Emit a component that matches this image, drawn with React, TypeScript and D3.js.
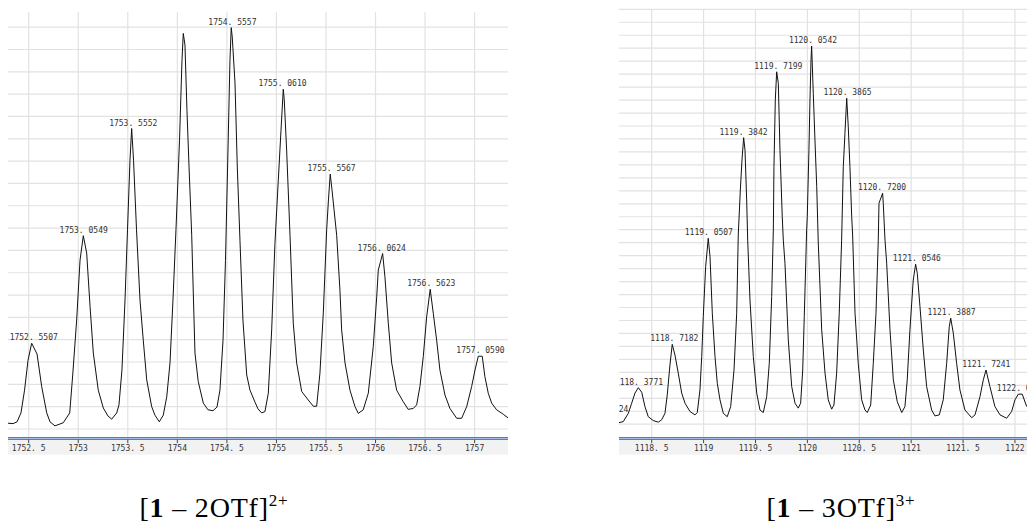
import React from 'react';
import * as d3 from 'd3';

// profile: [m/z, intensity]
const leftProfile: [number, number][] = [
  [1752.291, 1.3], [1752.342, 1.2], [1752.382, 1.6], [1752.422, 3.6], [1752.458, 8.7],
  [1752.493, 15.4], [1752.530, 19.2], [1752.584, 16.8], [1752.631, 9.5], [1752.682, 3.6],
  [1752.715, 1.6], [1752.765, 0.7], [1752.849, 1.4], [1752.914, 3.6], [1752.944, 12.1],
  [1752.984, 24.4], [1753.018, 37.8], [1753.051, 43.3], [1753.085, 39.4], [1753.119, 27.5],
  [1753.152, 17.0], [1753.202, 8.7], [1753.253, 4.7], [1753.300, 2.9], [1753.338, 2.2],
  [1753.388, 3.6], [1753.411, 5.4], [1753.441, 13.2], [1753.472, 28.9], [1753.497, 44.6],
  [1753.522, 60.2], [1753.539, 67.3], [1753.558, 60.2], [1753.588, 44.6], [1753.623, 28.9],
  [1753.656, 19.9], [1753.691, 11.0], [1753.741, 5.0], [1753.774, 3.1], [1753.818, 1.6],
  [1753.858, 3.1], [1753.893, 7.2], [1753.926, 14.8], [1753.956, 28.9], [1753.986, 44.6],
  [1754.022, 64.7], [1754.047, 82.6], [1754.060, 88.6], [1754.077, 86.0], [1754.097, 71.4],
  [1754.118, 58.7], [1754.145, 43.4], [1754.163, 28.9], [1754.178, 17.0], [1754.211, 10.6],
  [1754.262, 5.8], [1754.309, 4.3], [1754.360, 4.1], [1754.400, 4.9], [1754.430, 8.7],
  [1754.461, 19.9], [1754.486, 37.8], [1754.511, 62.5], [1754.531, 82.6], [1754.544, 89.9],
  [1754.554, 87.8], [1754.582, 77.5], [1754.605, 58.7], [1754.632, 42.3], [1754.662, 24.4],
  [1754.700, 12.1], [1754.733, 8.7], [1754.784, 6.0], [1754.814, 4.5], [1754.851, 3.6],
  [1754.884, 3.9], [1754.918, 8.0], [1754.952, 22.2], [1754.985, 41.6], [1755.019, 55.8],
  [1755.046, 66.9], [1755.069, 76.1], [1755.079, 73.7], [1755.103, 62.5], [1755.137, 43.4],
  [1755.170, 23.7], [1755.204, 14.8], [1755.255, 8.4], [1755.321, 6.5], [1755.372, 5.1],
  [1755.406, 5.1], [1755.439, 12.5], [1755.473, 26.0], [1755.507, 44.6], [1755.525, 51.3],
  [1755.543, 57.1], [1755.561, 53.5], [1755.608, 43.4], [1755.641, 31.1], [1755.658, 22.2],
  [1755.692, 14.8], [1755.742, 8.7], [1755.793, 5.0], [1755.826, 3.5], [1755.876, 4.3],
  [1755.927, 8.0], [1755.977, 18.4], [1756.012, 29.6], [1756.028, 35.6], [1756.072, 39.3],
  [1756.095, 34.1], [1756.129, 23.7], [1756.163, 14.8], [1756.213, 8.7], [1756.280, 6.1],
  [1756.330, 4.4], [1756.381, 4.6], [1756.415, 5.4], [1756.448, 9.5], [1756.482, 16.2],
  [1756.516, 25.1], [1756.552, 31.3], [1756.583, 25.9], [1756.617, 19.9], [1756.650, 13.2],
  [1756.701, 7.6], [1756.751, 4.6], [1756.819, 2.4], [1756.869, 2.4], [1756.920, 5.0],
  [1756.970, 9.5], [1757.004, 13.2], [1757.037, 16.3], [1757.077, 16.3], [1757.104, 11.7],
  [1757.138, 8.0], [1757.172, 5.8], [1757.222, 4.3], [1757.289, 3.3], [1757.337, 2.5],
];

const leftPeakMz = [1752.5507, 1753.0549, 1753.5552, 1754.5557, 1755.0610, 1755.5567, 1756.0624, 1756.5623, 1757.0590];
const leftPeakHeight = [19.2, 43.3, 67.3, 89.9, 76.1, 57.1, 39.3, 31.3, 16.3];
const leftTicks = [1752.5, 1753, 1753.5, 1754, 1754.5, 1755, 1755.5, 1756, 1756.5, 1757];

// profile
const rightProfile: [number, number][] = [
  [1118.185, 0.6], [1118.226, 1.0], [1118.275, 4.2], [1118.307, 8.1], [1118.339, 12.0],
  [1118.371, 14.1], [1118.404, 12.3], [1118.435, 6.8], [1118.467, 2.9], [1118.515, 1.4],
  [1118.564, 0.8], [1118.596, 1.7], [1118.628, 4.2], [1118.650, 11.3], [1118.676, 22.9],
  [1118.698, 30.8], [1118.724, 26.7], [1118.756, 19.7], [1118.789, 12.0], [1118.821, 8.1],
  [1118.869, 4.9], [1118.917, 3.6], [1118.939, 4.5], [1118.965, 13.2], [1118.982, 26.1],
  [1118.997, 41.5], [1119.020, 60.8], [1119.045, 71.7], [1119.062, 64.6], [1119.084, 42.8],
  [1119.110, 26.1], [1119.132, 15.8], [1119.158, 9.4], [1119.190, 4.2], [1119.228, 2.9],
  [1119.261, 6.8], [1119.293, 20.9], [1119.319, 42.8], [1119.334, 73.0], [1119.354, 90.3],
  [1119.370, 101.9], [1119.386, 110.5], [1119.399, 105.7], [1119.415, 86.5], [1119.425, 71.0],
  [1119.447, 47.9], [1119.479, 26.1], [1119.512, 12.0], [1119.543, 5.5], [1119.575, 4.5],
  [1119.608, 10.6], [1119.633, 23.5], [1119.656, 49.2], [1119.672, 74.9], [1119.678, 99.3],
  [1119.691, 125.0], [1119.704, 135.9], [1119.720, 131.5], [1119.736, 105.7], [1119.758, 80.0],
  [1119.768, 71.0], [1119.784, 62.1], [1119.816, 32.5], [1119.849, 14.5], [1119.881, 8.1],
  [1119.912, 6.2], [1119.935, 8.1], [1119.955, 20.9], [1119.970, 41.5], [1119.993, 74.9],
  [1119.999, 80.0], [1120.015, 105.7], [1120.025, 125.0], [1120.035, 140.4], [1120.041, 145.8],
  [1120.057, 127.6], [1120.073, 109.6], [1120.090, 91.6], [1120.105, 69.9], [1120.138, 36.4],
  [1120.170, 19.7], [1120.201, 9.4], [1120.234, 5.8], [1120.256, 7.4], [1120.282, 19.7],
  [1120.307, 42.8], [1120.330, 71.0], [1120.346, 99.3], [1120.362, 112.2], [1120.379, 125.7],
  [1120.394, 114.7], [1120.410, 99.3], [1120.427, 80.0], [1120.436, 73.0], [1120.459, 42.8],
  [1120.490, 23.5], [1120.523, 9.4], [1120.555, 5.5], [1120.577, 4.5], [1120.610, 7.4],
  [1120.635, 23.5], [1120.661, 42.8], [1120.683, 71.0], [1120.690, 85.2], [1120.725, 89.1],
  [1120.731, 85.2], [1120.748, 71.0], [1120.764, 62.1], [1120.796, 36.4], [1120.828, 17.1],
  [1120.866, 8.7], [1120.909, 4.5], [1120.940, 6.8], [1120.962, 17.1], [1120.988, 36.4],
  [1121.020, 55.6], [1121.043, 61.7], [1121.059, 58.2], [1121.085, 45.3], [1121.117, 28.6],
  [1121.149, 14.5], [1121.197, 5.5], [1121.229, 3.2], [1121.271, 3.6], [1121.309, 9.4],
  [1121.342, 23.5], [1121.367, 37.6], [1121.381, 40.9], [1121.406, 35.1], [1121.438, 23.5],
  [1121.470, 13.2], [1121.518, 5.5], [1121.583, 2.5], [1121.615, 3.6], [1121.663, 10.6],
  [1121.695, 17.1], [1121.721, 20.9], [1121.759, 14.5], [1121.807, 6.8], [1121.856, 3.6],
  [1121.920, 2.3], [1121.968, 4.9], [1122.000, 9.4], [1122.032, 11.6], [1122.070, 11.6],
  [1122.113, 6.8],
];

const rightPeakMz = [1118.0424, 1118.3771, 1118.7182, 1119.0507, 1119.3842, 1119.7199, 1120.0542, 1120.3865, 1120.7200, 1121.0546, 1121.3887, 1121.7241, 1122.0578];
const rightPeakHeight = [3.6, 14.1, 30.8, 71.7, 110.5, 135.9, 145.8, 125.7, 89.1, 61.7, 40.9, 20.9, 11.6];
const rightTicks = [1118.5, 1119, 1119.5, 1120, 1120.5, 1121, 1121.5, 1122];

const mono = '"DejaVu Sans Mono", monospace';

function fmt(v: number, digits: number) {
  let s = v.toFixed(digits);
  if (digits === 1 && s.endsWith('.0')) return s.slice(0, -2);
  return s.replace('.', '. ');
}

function Panel(props: any) {
  let { id, profile, peakMz, peakHeight, ticks, left, right, top, yMin, yMax, gridMax, caption, sup, capX } = props;
  let axisY = 437.7;
  let x = d3.scaleLinear().domain([profile[0][0], profile[profile.length - 1][0]]).range([left, right]);
  if (props.xDomain) x.domain(props.xDomain);
  let y = d3.scaleLinear().domain([yMin, yMax]).range([axisY, top]);
  let line = d3.line<[number, number]>().x(d => x(d[0])).y(d => y(d[1]));
  let grid = d3.range(0, gridMax + 0.1, 5);

  return (
    <g>
      <defs>
        <clipPath id={id}>
          <rect x={left} y={0} width={right - left} height={axisY} />
        </clipPath>
      </defs>
      {grid.map(g => (
        <line key={'h' + g} x1={left} x2={right} y1={y(g)} y2={y(g)} stroke="#e2e2e2" strokeWidth={1.2} />
      ))}
      {ticks.map((t: number) => (
        <line key={'v' + t} x1={x(t)} x2={x(t)} y1={top} y2={axisY} stroke="#e2e2e2" strokeWidth={1.2} />
      ))}
      <g clipPath={`url(#${id})`}>
        <path d={line(profile) || ''} fill="none" stroke="#111" strokeWidth={1} />
        {peakMz.map((m: number, i: number) => (
          <text key={m} x={x(m)} y={y(peakHeight[i]) - 3} textAnchor="middle"
            fontFamily={mono} fontSize={8} fill="#333">{fmt(m, 4)}</text>
        ))}
      </g>
      <rect x={left} y={axisY + 2} width={right - left} height={15} fill="#f2f2f2" />
      <line x1={left} x2={right} y1={axisY} y2={axisY} stroke="#4a7cc9" strokeWidth={1.6} />
      <line x1={left} x2={right} y1={axisY + 1.8} y2={axisY + 1.8} stroke="#7a7a7a" strokeWidth={1} />
      {ticks.map((t: number) => (
        <g key={'t' + t}>
          <line x1={x(t)} x2={x(t)} y1={axisY + 2} y2={axisY + 5.5} stroke="#444" strokeWidth={1} />
          <text x={x(t)} y={axisY + 13} textAnchor="middle" fontFamily={mono} fontSize={8} fill="#333">
            {fmt(t, 1)}
          </text>
        </g>
      ))}
      <text x={capX} y={517} textAnchor="middle" fontFamily='"Liberation Serif", serif' fontSize={28}
        letterSpacing={0.8} fill="#000">
        [<tspan fontWeight="bold">1</tspan> – {caption}]<tspan dy={-11} fontSize={17}>{sup}</tspan>
      </text>
    </g>
  );
}

export default function App() {
  return (
    <svg width={1027} height={531} style={{ position: 'absolute', left: 0, top: 0, background: '#fff' }}>
      <Panel id="clipL" profile={leftProfile} peakMz={leftPeakMz} peakHeight={leftPeakHeight}
        ticks={leftTicks} left={8} right={508} top={12} yMin={-1.95} yMax={93.4} gridMax={90}
        caption="2OTf" sup="2+" capX={214} />
      <Panel id="clipR" profile={rightProfile} peakMz={rightPeakMz} peakHeight={rightPeakHeight}
        ticks={rightTicks} left={619} right={1027} top={9.3} yMin={-5.2} yMax={160} gridMax={160}
        xDomain={[1118.185, 1122.116]} caption="3OTf" sup="3+" capX={841} />
    </svg>
  );
}
